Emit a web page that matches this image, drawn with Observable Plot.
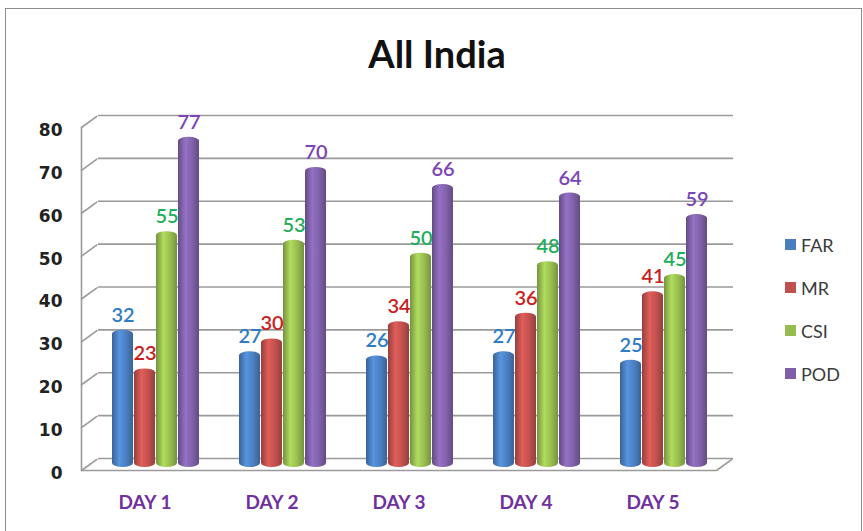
<!DOCTYPE html>
<html><head><meta charset="utf-8">
<script src="https://cdn.jsdelivr.net/npm/d3@7"></script>
<script src="https://cdn.jsdelivr.net/npm/@observablehq/plot@0.6"></script>
<style>
body{margin:0;background:#fff;font-family:Lato,sans-serif;}
#frame{position:absolute;left:5px;top:8px;width:857px;height:540px;border:1px solid #8c8c8c;box-sizing:border-box;}
#title{position:absolute;left:0;top:30px;width:874px;text-align:center;font:bold 38px Lato,sans-serif;color:#111;}
#chart{position:absolute;left:0;top:105px;}
#legend{position:absolute;left:785px;top:223px;}
.item{display:flex;align-items:center;height:43px;font-size:18px;color:#3b3b3b;}
.sw{width:11px;height:11px;margin-right:5px;}
</style></head><body>
<div id="frame"></div>
<div id="title">All India</div>
<div id="chart"></div>
<div id="legend"></div>
<script>
const days = ["DAY 1","DAY 2","DAY 3","DAY 4","DAY 5"];
const series = ["FAR","MR","CSI","POD"];
const FAR = [32,27,26,27,25];
const MR  = [23,30,34,36,41];
const CSI = [55,53,50,48,45];
const POD = [77,70,66,64,59];
const yTicks = [0,10,20,30,40,50,60,70,80];
const barColors = ["#4a7ebf","#c0504d","#96bb4f","#7f60a8"];
const labelColors = ["#2e7cc4","#c81e1e","#1fae5a","#7b45b5"];

const values = [FAR,MR,CSI,POD];
const data = days.flatMap((d,i)=>values.map((arr,j)=>({day:d, series:series[j], value:arr[i]})));

const W=863,H=426,mL=81,mR=147,mT=19,mB=64;
const plotH = H-mT-mB;
const lineShape = {draw(ctx,l){ctx.moveTo(0,0);ctx.lineTo(0,-l);}};
const grid = {stroke:"#9a9a9a",strokeWidth:1.6};

const chart = Plot.plot({
  width:W,height:H,marginLeft:mL,marginRight:mR,marginTop:mT,marginBottom:mB,
  style:{fontFamily:"Lato, sans-serif",background:"transparent",overflow:"visible"},
  fx:{domain:days,padding:0,label:null},
  x:{domain:series,paddingInner:0.04,paddingOuter:0.84,align:0.77,axis:null},
  y:{domain:[0,80],axis:null},
  marks:[
    Plot.ruleY(yTicks,{y:d=>d,dx:17,dy:-9,...grid}),
    Plot.vector(yTicks,{y:d=>d,fx:()=>"DAY 1",frameAnchor:"left",dy:3,length:19,rotate:54,anchor:"start",shape:lineShape,...grid}),
    Plot.vector([0],{y:d=>d,fx:()=>"DAY 1",frameAnchor:"left",dy:3,length:plotH,rotate:0,anchor:"start",shape:lineShape,...grid}),
    Plot.ruleY([0],{y:d=>d,dy:3,...grid}),
    Plot.vector([0],{y:d=>d,fx:()=>"DAY 5",frameAnchor:"right",dy:3,length:19,rotate:54,anchor:"start",shape:lineShape,...grid}),
    ...series.map((s,j)=>Plot.barY(data.filter(d=>d.series===s),{fx:"day",x:"series",y:"value",fill:`url(#g${j})`,rx:10.5,ry:4})),
    ...series.map((s,j)=>Plot.text(data.filter(d=>d.series===s),{fx:"day",x:"series",y:"value",text:"value",dy:-15,fill:labelColors[j],fontSize:20,fontWeight:600})),
    Plot.axisY(yTicks,{label:null,tickSize:0,tickPadding:19,dy:6,fontSize:17,fontWeight:"bold",fontFamily:"DejaVu Sans, sans-serif",fill:"#222"}),
    Plot.axisFx({anchor:"bottom",tickSize:0,tickPadding:28,fontSize:19,fontWeight:"bold",fill:"#7030a0",label:null})
  ]
});

const svg = chart.tagName.toLowerCase()==="svg" ? chart : chart.querySelector("svg");
const defs = barColors.map((c,j)=>{
  const dk = d3.color(c).darker(0.7).formatHex();
  const lt = d3.color(c).brighter(0.45).formatHex();
  return `<linearGradient id="g${j}" x1="0" x2="1" y1="0" y2="0">
    <stop offset="0%" stop-color="${dk}"/><stop offset="35%" stop-color="${lt}"/>
    <stop offset="70%" stop-color="${c}"/><stop offset="100%" stop-color="${dk}"/></linearGradient>`;
}).join("");
svg.insertAdjacentHTML("afterbegin", `<defs>${defs}</defs>`);
document.getElementById("chart").appendChild(chart);

const legend = document.getElementById("legend");
series.forEach((s,j)=>{
  const it = document.createElement("div"); it.className="item";
  it.innerHTML = `<span class="sw" style="background:${barColors[j]}"></span><span>${s}</span>`;
  legend.appendChild(it);
});
</script>
</body></html>
